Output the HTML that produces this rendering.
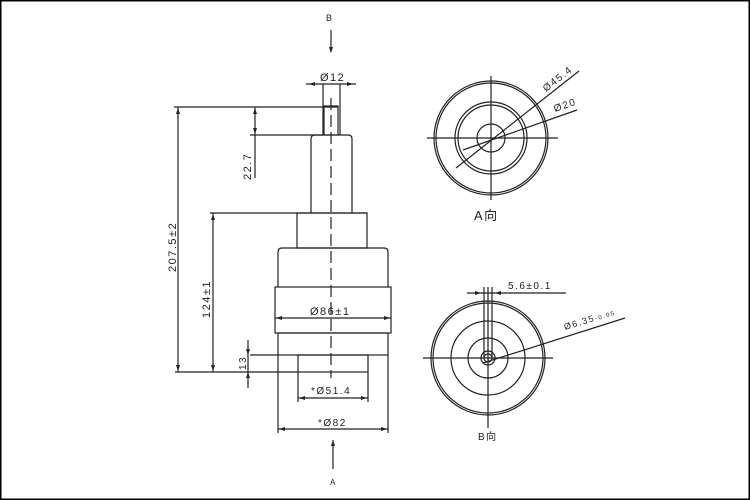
<!DOCTYPE html>
<html><head><meta charset="utf-8"><style>
html,body{margin:0;padding:0;background:#fff}
svg{display:block}
text{font-family:"Liberation Sans","Noto Sans CJK SC",sans-serif;fill:#222;letter-spacing:1.5px}
</style></head><body>
<svg width="750" height="500" viewBox="0 0 750 500" xmlns="http://www.w3.org/2000/svg">
<rect x="0.5" y="0.5" width="749" height="499" fill="#fff" stroke="#000" stroke-width="2"/>
<g stroke="#222" stroke-width="1.2" fill="none">
<line x1="331" y1="30" x2="331" y2="52"/>
<line x1="306" y1="84" x2="356" y2="84"/>
<line x1="323" y1="84" x2="323" y2="135"/><line x1="340" y1="84" x2="340" y2="135"/>
<rect x="324" y="106" width="14" height="29"/>
<line x1="174" y1="107" x2="338" y2="107"/>
<line x1="250" y1="135" x2="323" y2="135"/>
<line x1="255" y1="107" x2="255" y2="178"/>
<path d="M311 213 V139 Q311 135 315 135 H348 Q352 135 352 139 V213"/>
<line x1="210" y1="213" x2="367" y2="213"/>
<rect x="297" y="213" width="70" height="35"/>
<path d="M278 287 V252 Q278 248 282 248 H384 Q388 248 388 252 V287"/>
<rect x="275" y="287" width="116" height="46"/>
<line x1="275" y1="318" x2="391" y2="318"/>
<rect x="278" y="333" width="110" height="22"/>
<rect x="298" y="355" width="70" height="17"/>
<line x1="175" y1="372" x2="298" y2="372"/>
<line x1="250" y1="355" x2="278" y2="355"/>
<line x1="248" y1="340" x2="248" y2="388"/>
<line x1="298" y1="372" x2="298" y2="402"/><line x1="368" y1="372" x2="368" y2="402"/>
<line x1="298" y1="398" x2="368" y2="398"/>
<line x1="278" y1="355" x2="278" y2="433"/><line x1="388" y1="355" x2="388" y2="433"/>
<line x1="278" y1="429" x2="388" y2="429"/>
<line x1="333" y1="440" x2="333" y2="469"/>
<line x1="178" y1="107" x2="178" y2="372"/>
<line x1="213" y1="213" x2="213" y2="372"/>
<line x1="331" y1="98" x2="331" y2="378" stroke-dasharray="12,5"/>
<circle cx="491" cy="138" r="57"/><circle cx="491" cy="138" r="55"/>
<circle cx="491" cy="138" r="36"/><circle cx="491" cy="138" r="33"/>
<circle cx="491" cy="138" r="14"/>
<line x1="427" y1="138" x2="558" y2="138"/><line x1="491" y1="76" x2="491" y2="200"/>
<line x1="456" y1="168" x2="579" y2="71"/>
<line x1="463" y1="150" x2="577" y2="110"/>
<circle cx="488" cy="358" r="57"/><circle cx="488" cy="358" r="55"/>
<circle cx="488" cy="358" r="37"/><circle cx="488" cy="358" r="20"/>
<circle cx="488" cy="358" r="7"/><circle cx="488" cy="358" r="4"/>
<line x1="423" y1="358" x2="553" y2="358"/><line x1="488" y1="287" x2="488" y2="428"/>
<line x1="484" y1="287" x2="484" y2="358"/><line x1="492" y1="287" x2="492" y2="358"/>
<line x1="467" y1="293" x2="566" y2="293"/>
<line x1="483" y1="363" x2="625" y2="318"/>
</g>
<g fill="#222">
<path d="M331 53 l-2 -6 h4z"/>
<path d="M309 84 l6 -2 v4z M353 84 l-6 -2 v4z"/>
<path d="M255 108 l-2 6 h4z M255 134 l-2 -6 h4z"/>
<path d="M178 108 l-2 6 h4z M178 371 l-2 -6 h4z M213 214 l-2 6 h4z M213 371 l-2 -6 h4z"/>
<path d="M276 318 l6 -2 v4z M390 318 l-6 -2 v4z"/>
<path d="M248 355 l-2 -6 h4z M248 372 l-2 6 h4z"/>
<path d="M299 398 l6 -2 v4z M367 398 l-6 -2 v4z M279 429 l6 -2 v4z M387 429 l-6 -2 v4z"/>
<path d="M333 440 l-2 6 h4z"/>
<path d="M481 293 l-6 -2 v4z M495 293 l6 -2 v4z"/>
</g>
<g font-size="11">
<text x="326" y="21" font-size="9">B</text>
<text x="320" y="81">Ø12</text>
<text transform="translate(251,180) rotate(-90)">22.7</text>
<text transform="translate(176,272) rotate(-90)">207.5±2</text>
<text transform="translate(210,318) rotate(-90)">124±1</text>
<text transform="translate(246,370) rotate(-90)" font-size="10">13</text>
<text x="310" y="315">Ø86±1</text>
<text x="311" y="394" font-size="10">*Ø51.4</text>
<text x="318" y="426" font-size="10">*Ø82</text>
<text x="330" y="485" font-size="8">A</text>
<text transform="translate(546,92) rotate(-38)" font-size="10">Ø45.4</text>
<text transform="translate(555,112) rotate(-19)" font-size="10">Ø20</text>
<text x="474" y="220" font-size="13">A向</text>
<text x="508" y="289" font-size="10">5.6±0.1</text>
<text transform="translate(565,330) rotate(-17)" font-size="9">Ø6.35<tspan font-size="6">-0.05</tspan></text>
<text x="478" y="440" font-size="10">B向</text>
</g>
</svg>
</body></html>
